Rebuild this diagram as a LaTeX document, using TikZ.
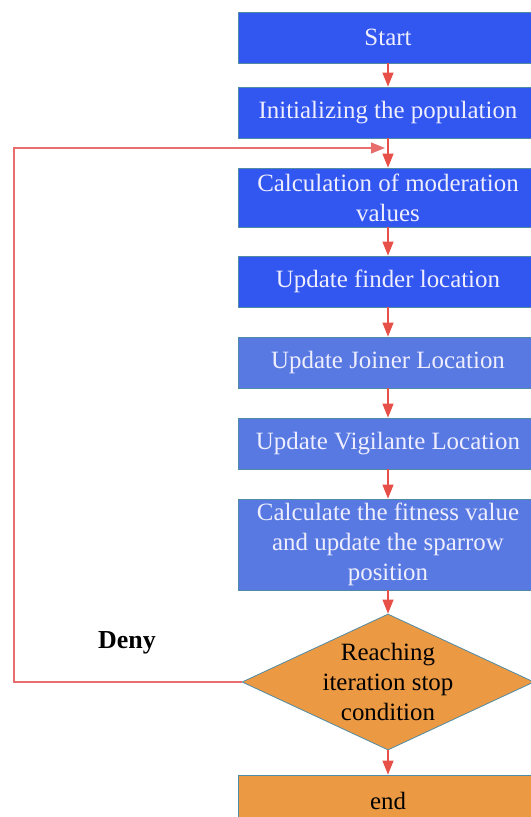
\documentclass[tikz,border=0pt]{standalone}
\usepackage{fontspec}
\setmainfont{LiberationSerif}[Extension=.ttf,UprightFont=*-Regular,BoldFont=*-Bold,ItalicFont=*-Italic,BoldItalicFont=*-BoldItalic]
\usetikzlibrary{shapes.geometric,arrows.meta}
\definecolor{bluea}{RGB}{50,86,240}
\definecolor{blueb}{RGB}{88,121,226}
\definecolor{orng}{RGB}{236,153,68}
\definecolor{edgec}{RGB}{80,140,165}
\definecolor{arr}{RGB}{230,80,72}
\definecolor{loopc}{RGB}{232,110,110}
\definecolor{txtw}{RGB}{238,238,255}
\begin{document}
\begin{tikzpicture}[x=1bp,y=-1bp,
  every node/.style={font=\rmfamily\fontsize{25}{30}\selectfont},
  boxa/.style={draw=edgec,line width=0.8bp,fill=bluea,text=txtw,minimum width=300bp,inner sep=0pt,align=center},
  boxb/.style={boxa,fill=blueb},
  endbox/.style={draw=edgec,line width=0.8bp,fill=orng,text=black,minimum width=300bp,inner sep=0pt,align=center},
  decide/.style={diamond,aspect=2.15,draw=edgec,line width=0.8bp,fill=orng,minimum width=292bp,minimum height=136bp,inner sep=0pt},
  flow/.style={draw=arr,line width=1.2bp,-{Triangle[width=11bp,length=14bp]}},
  loop/.style={draw=loopc,line width=1.2bp,-{Triangle[width=11bp,length=14bp]}}]
\useasboundingbox (0,0) rectangle (531,817);
\clip (0,0) rectangle (531,817);
\fill[white] (0,0) rectangle (531,817);
\node[boxa,minimum height=51bp] (start) at (388,37.5) {Start};
\node[boxa,minimum height=51bp] (init) at (388,112.5) {Initializing the population};
\node[boxa,minimum height=59bp] (calc) at (388,197.5) {Calculation of moderation\\values};
\node[boxa,minimum height=51bp] (finder) at (388,281.5) {Update finder location};
\node[boxb,minimum height=51bp] (joiner) at (388,362.5) {Update Joiner Location};
\node[boxb,minimum height=51bp] (vigil) at (388,443.5) {Update Vigilante Location};
\node[boxb,minimum height=91bp] (fit) at (388,544.5) {Calculate the fitness value\\and update the sparrow\\position};
\node[decide] (cond) at (388,682) {};
\node[align=center,text=black] (condtxt) at (cond.center) {Reaching\\iteration stop\\condition};
\node[endbox,minimum height=52bp] (end) at (388,801) {end};
\node[font=\rmfamily\bfseries\fontsize{26}{30}\selectfont] (deny) at (127,643) {Deny};
\coordinate (corner1) at (14,682);
\coordinate (corner2) at (14,148);
\coordinate (merge) at (385,148);
\draw[flow] (start) -- (init);
\draw[flow] (init) -- (calc);
\draw[flow] (calc) -- (finder);
\draw[flow] (finder) -- (joiner);
\draw[flow] (joiner) -- (vigil);
\draw[flow] (vigil) -- (fit);
\draw[flow] (fit) -- (cond);
\draw[flow] (cond) -- (end);
\draw[loop] (cond.west) -- (corner1) -- (corner2) -- (merge);
\end{tikzpicture}
\end{document}
